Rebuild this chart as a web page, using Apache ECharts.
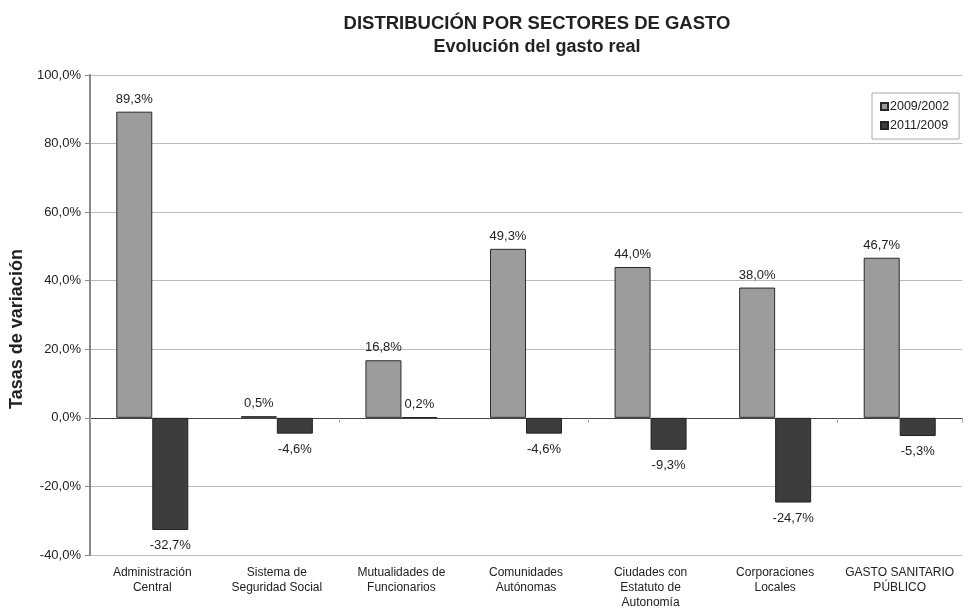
<!DOCTYPE html>
<html>
<head>
<meta charset="utf-8">
<script src="https://cdn.jsdelivr.net/npm/echarts@6/dist/echarts.min.js"></script>
<style>
  html, body { margin: 0; padding: 0; background: #fff; }
  #chart { width: 975px; height: 611px; }
</style>
</head>
<body>
<div id="chart"></div>
<script>
// categories and values
const sectores = [
    'Administración\nCentral',
    'Sistema de\nSeguridad Social',
    'Mutualidades de\nFuncionarios',
    'Comunidades\nAutónomas',
    'Ciudades con\nEstatuto de\nAutonomía',
    'Corporaciones\nLocales',
    'GASTO SANITARIO\nPÚBLICO'
];
const tasas0902 = [89.3, 0.5, 16.8, 49.3, 44.0, 38.0, 46.7];
const tasas1109 = [-32.7, -4.6, 0.2, -4.6, -9.3, -24.7, -5.3];

const fmt = v => v.toFixed(1).replace('.', ',') + '%';
const font = 'Liberation Sans, Arial, sans-serif';

const mychart = echarts.init(document.getElementById('chart'));

const barLabel = {
    show: true,
    position: 'top',
    distance: 6,
    color: '#222',
    fontSize: 13,
    fontFamily: font,
    formatter: p => fmt(p.value)
};

// negatives go below the bar end
const labelFor = arr => arr.map(v => ({
    value: v,
    label: v < 0 ? { position: 'bottom', distance: 9 } : {}
}));

let option = {
    animation: false,
    title: [
        {
            text: 'DISTRIBUCIÓN POR SECTORES DE GASTO',
            left: 532, top: 9, textAlign: 'center',
            textStyle: { fontSize: 18.5, fontWeight: 'bold', color: '#222', fontFamily: font }
        },
        {
            text: 'Evolución del gasto real',
            left: 532, top: 33, textAlign: 'center',
            textStyle: { fontSize: 18, fontWeight: 'bold', color: '#222', fontFamily: font }
        }
    ],
    legend: {
        orient: 'vertical',
        left: 872,
        top: 93,
        itemWidth: 7,
        itemHeight: 7,
        itemGap: 6,
        padding: [7, 10, 7, 8],
        borderColor: '#aaa',
        borderWidth: 1,
        icon: 'rect',
        textStyle: { fontSize: 12.5, color: '#222', fontFamily: font, padding: [0, 0, 0, -3] },
        data: ['2009/2002', '2011/2009']
    },
    grid: { left: 88, right: 13, top: 75, bottom: 56 },
    xAxis: [
        {
            type: 'category',
            data: sectores,
            position: 'bottom',
            axisLine: { show: false, onZero: false },
            axisTick: { show: false },
            axisLabel: {
                color: '#222', fontSize: 12, fontFamily: font,
                lineHeight: 15, margin: 10, interval: 0
            }
        },
        {
            type: 'category',
            data: sectores,
            position: 'bottom',
            axisLine: { show: true, onZero: true, lineStyle: { color: '#444', width: 1 } },
            axisTick: { show: true, length: 5, lineStyle: { color: '#aaa' } },
            axisLabel: { show: false }
        }
    ],
    yAxis: {
        type: 'value',
        min: -40,
        max: 100,
        interval: 20,
        name: 'Tasas de variación',
        nameLocation: 'middle',
        nameGap: 58,
        nameTextStyle: { fontSize: 18, fontWeight: 'bold', color: '#222', fontFamily: font, padding: [0, 0, 0, -28] },
        axisLine: { show: true, lineStyle: { color: '#888', width: 2 } },
        axisTick: { show: true, length: 5, lineStyle: { color: '#888' } },
        axisLabel: { color: '#222', fontSize: 13, fontFamily: font, formatter: v => fmt(v), margin: 9 },
        splitLine: { lineStyle: { color: '#bbb', width: 1 } }
    },
    series: [
        {
            name: '2009/2002',
            type: 'bar',
            xAxisIndex: 0,
            data: labelFor(tasas0902),
            barWidth: 36,
            barGap: '0%',
            itemStyle: { color: '#9c9c9c', borderColor: '#2a2a2a', borderWidth: 1 },
            label: barLabel
        },
        {
            name: '2011/2009',
            type: 'bar',
            xAxisIndex: 0,
            data: labelFor(tasas1109),
            barWidth: 36,
            barGap: '0%',
            itemStyle: { color: '#3d3d3d', borderColor: '#222', borderWidth: 1 },
            label: barLabel
        }
    ]
};

mychart.setOption(option);
</script>
</body>
</html>
